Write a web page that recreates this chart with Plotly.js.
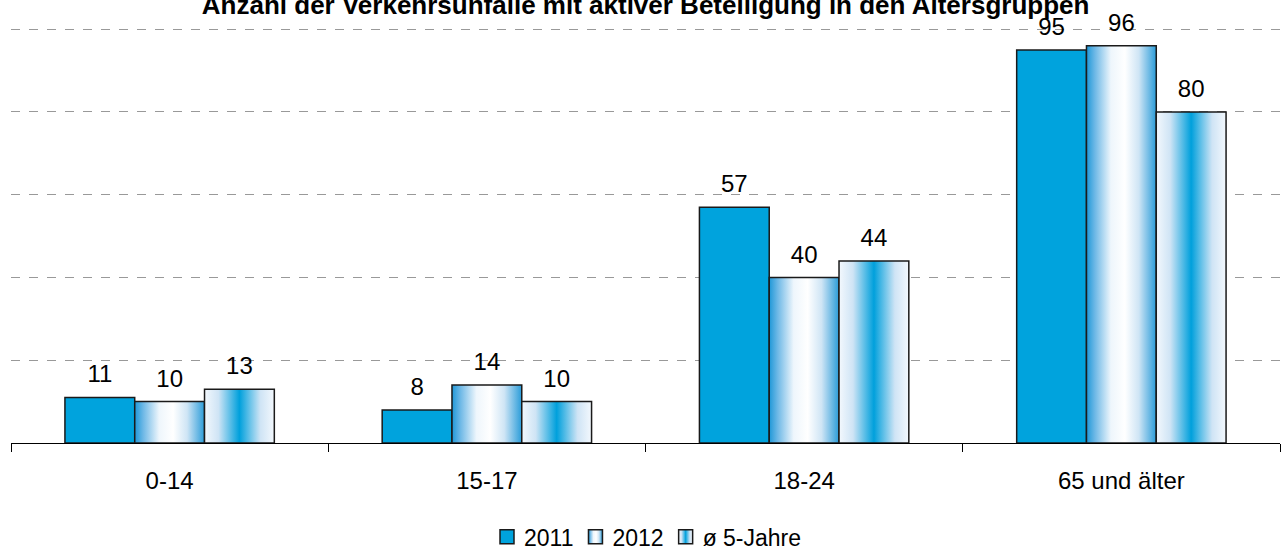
<!DOCTYPE html>
<html>
<head>
<meta charset="utf-8">
<script src="https://cdn.plot.ly/plotly-3.0.1.min.js"></script>
<style>html,body{margin:0;padding:0;background:#fff;}#chart{width:1281px;height:550px;}</style>
</head>
<body>
<div id="chart"></div>
<script>
const categories = ["0-14", "15-17", "18-24", "65 und älter"];
const seriesNames = ["2011", "2012", "ø 5-Jahre"];
const values2011 = [11, 8, 57, 95];
const values2012 = [10, 14, 40, 96];
const valuesAvg = [13, 10, 44, 80];
const titleText = "Anzahl der Verkehrsunfälle mit aktiver Beteiligung in den Altersgruppen";

const FONT = "Liberation Sans, Arial, sans-serif";
const blue = "#00A3DD";
const border = {color: "#1a1a1a", width: 1.5};
const allValues = [values2011, values2012, valuesAvg];
const fills = [blue, "#ffffff", "#ffffff"];

const traces = allValues.map((v, i) => ({
  type: "bar",
  name: seriesNames[i],
  x: categories,
  y: v,
  text: v.map(String),
  textposition: "outside",
  cliponaxis: false,
  textfont: {family: FONT, size: 24, color: "#000"},
  marker: {color: fills[i], line: border},
  hoverinfo: "x+y+name"
}));

const layout = {
  width: 1281, height: 550,
  margin: {l: 11, r: 1, t: 28, b: 107, autoexpand: false},
  paper_bgcolor: "#fff", plot_bgcolor: "#fff",
  font: {family: FONT, color: "#000", size: 24},
  title: {
    text: "<b>" + titleText + "</b>",
    font: {family: FONT, size: 26, color: "#000"},
    x: 0.504, xanchor: "center", y: 0.991, yanchor: "middle", yref: "container"
  },
  barmode: "group",
  bargap: 0.34,
  bargroupgap: 0,
  showlegend: true,
  legend: {
    orientation: "h", x: 0.5, xanchor: "center", y: -0.226, yanchor: "middle",
    font: {family: FONT, size: 23}, traceorder: "normal"
  },
  xaxis: {
    type: "category",
    showline: true, linecolor: "#000", linewidth: 1,
    ticks: "outside", tickson: "boundaries", ticklen: 8, tickcolor: "#000", tickwidth: 1,
    tickfont: {family: FONT, size: 24}, ticklabelstandoff: 16, showgrid: false
  },
  yaxis: {
    range: [0, 100.3],
    showticklabels: false, ticks: "",
    showgrid: true, gridcolor: "#999", griddash: "dash", gridwidth: 1,
    tickmode: "array", tickvals: [20, 40, 60, 80, 100],
    zeroline: false, showline: false
  }
};

Plotly.newPlot("chart", traces, layout, {displayModeBar: false, staticPlot: true}).then(gd => {
  const ns = "http://www.w3.org/2000/svg";
  const svg = gd.querySelector("svg.main-svg");
  let defs = svg.querySelector("defs");
  if (!defs) { defs = document.createElementNS(ns, "defs"); svg.insertBefore(defs, svg.firstChild); }
  function grad(id, stops) {
    const g = document.createElementNS(ns, "linearGradient");
    g.setAttribute("id", id);
    g.setAttribute("x1", "0"); g.setAttribute("x2", "1");
    g.setAttribute("y1", "0"); g.setAttribute("y2", "0");
    stops.forEach(s => {
      const st = document.createElementNS(ns, "stop");
      st.setAttribute("offset", s[0]);
      st.setAttribute("stop-color", s[1]);
      g.appendChild(st);
    });
    defs.appendChild(g);
  }
  grad("g2012", [[0, "#1f98d8"], [0.12, "#6db8e6"], [0.35, "#eef6fc"], [0.55, "#ffffff"], [0.75, "#cfe5f5"], [1, "#2a9cd9"]]);
  grad("gAvg", [[0, "#f3f8fd"], [0.2, "#cfe4f5"], [0.5, "#00a0dc"], [0.8, "#cfe4f5"], [1, "#f3f8fd"]]);
  const ids = [null, "url(#g2012)", "url(#gAvg)"];
  gd.querySelectorAll(".barlayer .trace.bars").forEach((t, i) => {
    if (ids[i]) t.querySelectorAll(".point path").forEach(p => { p.style.fill = ids[i]; });
    t.querySelectorAll("text.bartext").forEach(tx => {
      const tr = tx.getAttribute("transform") || "";
      tx.setAttribute("transform", "translate(0,-7) " + tr);
    });
  });
  // legend: larger squares, small gap to their labels, tighter item spacing
  const items = Array.from(gd.querySelectorAll(".legend .traces"));
  items.forEach((t, i) => {
    t.querySelectorAll(".legendpoints path").forEach(p => {
      if (ids[i]) p.style.fill = ids[i];
      p.setAttribute("d", "M7,7H-7V-7H7Z");
      const tr = p.getAttribute("transform") || "";
      p.setAttribute("transform", "translate(3,0) " + tr);
    });
  });
  if (items.length) {
    const parse = tr => {
      const m = /translate\(\s*([-\d.e]+)[ ,]+([-\d.e]+)/.exec(tr || "");
      return m ? [parseFloat(m[1]), parseFloat(m[2])] : [0, 0];
    };
    const pos = items.map(t => parse(t.getAttribute("transform")));
    const widths = items.map(t => t.querySelector("text.legendtext").getComputedTextLength());
    const sq = 16; // left edge of square inside an item
    const origLeft = pos[0][0] + sq;
    const origRight = pos[pos.length - 1][0] + 40 + widths[widths.length - 1];
    const newX = [0];
    for (let i = 1; i < items.length; i++) newX.push(newX[i - 1] + widths[i - 1] + 40 + 15 - sq);
    const newLeft = newX[0] + sq;
    const newRight = newX[newX.length - 1] + 40 + widths[widths.length - 1];
    const shift = (origLeft + origRight) / 2 - (newLeft + newRight) / 2;
    items.forEach((t, i) => {
      t.setAttribute("transform", "translate(" + (newX[i] + shift) + "," + pos[i][1] + ")");
    });
  }
});
</script>
</body>
</html>
